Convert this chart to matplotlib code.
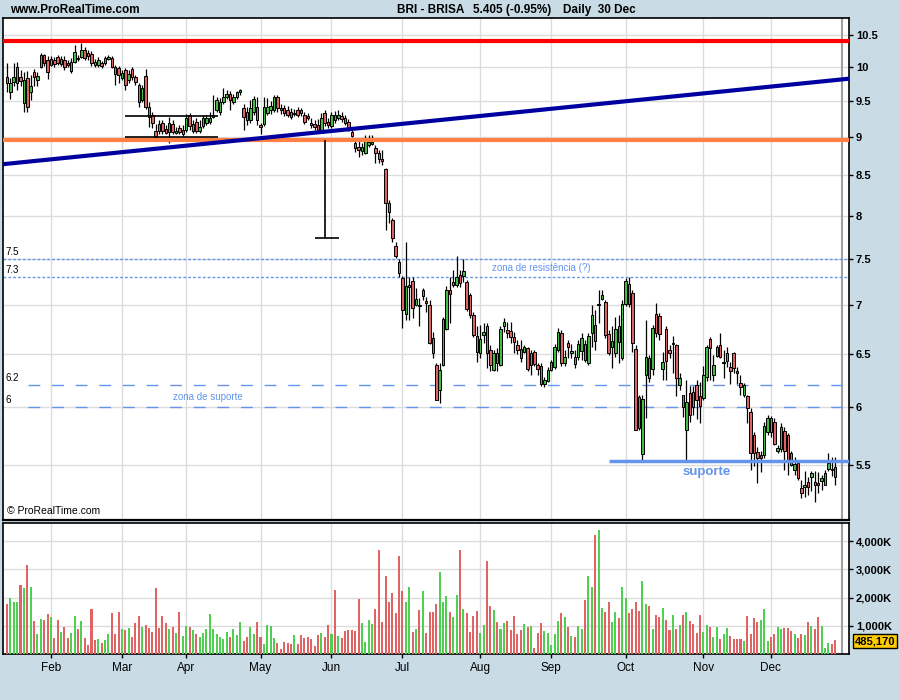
import numpy as np
import pandas as pd
import matplotlib
matplotlib.use('Agg')
import matplotlib.pyplot as plt
from matplotlib.ticker import NullLocator

plt.rcParams['font.family'] = ['Liberation Sans', 'DejaVu Sans']

# Dias de negociação (Euronext Lisboa, 2008)
feriados = ['2008-03-21', '2008-03-24', '2008-05-01', '2008-12-25', '2008-12-26']
datas = pd.bdate_range('2008-01-15', '2008-12-30', freq='C', holidays=feriados)

abertura = [
    9.86, 9.63, 9.78, 9.77, 9.86, 9.48, 9.84, 9.63, 9.93, 9.81,
    10.00, 10.19, 10.11, 10.04, 10.11, 10.16, 10.05, 10.11, 10.07, 9.95,
    10.08, 10.14, 10.16, 10.27, 10.22, 10.20, 10.08, 10.04, 10.07, 10.07,
    10.13, 10.14, 10.00, 9.99, 9.84, 9.96, 9.81, 9.97, 9.86, 9.74,
    9.52, 9.87, 9.42, 9.31, 9.09, 9.19, 9.20, 9.12, 9.07, 9.19,
    9.06, 9.13, 9.05, 9.10, 9.31, 9.09, 9.21, 9.09, 9.16, 9.20,
    9.21, 9.28, 9.38, 9.35, 9.49, 9.56, 9.61, 9.49, 9.56, 9.63,
    9.41, 9.35, 9.24, 9.35, 9.42, 9.17, 9.19, 9.34, 9.38, 9.38,
    9.56, 9.41, 9.41, 9.38, 9.35, 9.32, 9.38, 9.38, 9.31, 9.30,
    9.20, 9.19, 9.17, 9.10, 9.34, 9.21, 9.16, 9.31, 9.27, 9.30,
    9.27, 9.21, 9.07, 8.93, 8.87, 8.82, 8.79, 8.90, 8.91, 8.86,
    8.79, 8.71, 8.58, 8.15, 7.95, 7.64, 7.46, 7.28, 6.90, 7.19,
    7.25, 7.00, 7.00, 7.09, 7.04, 7.00, 6.66, 6.39, 6.16, 6.39,
    6.75, 7.16, 7.21, 7.21, 7.32, 7.31, 7.24, 7.10, 6.89, 6.68,
    6.51, 6.69, 6.78, 6.54, 6.34, 6.51, 6.39, 6.78, 6.74, 6.73,
    6.67, 6.59, 6.55, 6.52, 6.56, 6.39, 6.52, 6.39, 6.38, 6.21,
    6.24, 6.34, 6.37, 6.54, 6.71, 6.41, 6.61, 6.51, 6.47, 6.47,
    6.53, 6.60, 6.41, 6.71, 6.79, 7.00, 7.06, 7.03, 6.70, 6.57,
    6.51, 6.78, 6.46, 7.01, 7.22, 7.12, 6.55, 6.09, 5.59, 6.30,
    6.46, 6.35, 6.90, 6.88, 6.35, 6.75, 6.54, 6.60, 6.59, 6.20,
    6.11, 5.80, 6.13, 6.14, 6.20, 6.10, 6.08, 6.28, 6.65, 6.30,
    6.48, 6.59, 6.41, 6.43, 6.37, 6.51, 6.33, 6.22, 6.11, 6.10,
    5.96, 5.75, 5.61, 5.56, 5.58, 5.78, 5.90, 5.87, 5.62, 5.63,
    5.79, 5.75, 5.60, 5.46, 5.52, 5.31, 5.32, 5.36, 5.40, 5.36,
    5.35, 5.37, 5.34, 5.47, 5.47, 5.48,
]
maximo = [
    10.07, 9.84, 10.07, 10.08, 9.96, 9.93, 9.95, 9.89, 9.97, 9.93,
    10.22, 10.20, 10.17, 10.17, 10.16, 10.19, 10.17, 10.17, 10.11, 10.14,
    10.34, 10.19, 10.38, 10.31, 10.27, 10.25, 10.13, 10.16, 10.10, 10.17,
    10.19, 10.17, 10.04, 10.02, 9.96, 9.99, 9.96, 10.00, 9.89, 9.77,
    9.74, 9.97, 9.49, 9.35, 9.19, 9.24, 9.24, 9.17, 9.28, 9.24,
    9.14, 9.17, 9.17, 9.32, 9.34, 9.24, 9.27, 9.24, 9.31, 9.31,
    9.35, 9.59, 9.56, 9.55, 9.70, 9.67, 9.65, 9.61, 9.65, 9.68,
    9.47, 9.42, 9.52, 9.58, 9.56, 9.20, 9.56, 9.55, 9.51, 9.59,
    9.59, 9.47, 9.45, 9.44, 9.41, 9.39, 9.42, 9.41, 9.35, 9.34,
    9.27, 9.24, 9.25, 9.34, 9.38, 9.27, 9.35, 9.37, 9.38, 9.35,
    9.31, 9.25, 9.10, 8.97, 8.97, 8.93, 9.03, 9.03, 9.03, 8.90,
    8.83, 8.83, 8.59, 8.19, 7.97, 7.69, 7.50, 7.31, 7.69, 7.30,
    7.30, 7.18, 7.07, 7.18, 7.08, 7.05, 6.72, 6.41, 6.41, 6.87,
    7.20, 7.30, 7.37, 7.53, 7.37, 7.50, 7.26, 7.12, 6.92, 6.78,
    6.79, 6.81, 6.81, 6.59, 6.54, 6.56, 6.78, 6.86, 6.82, 6.82,
    6.72, 6.64, 6.64, 6.59, 6.57, 6.54, 6.54, 6.41, 6.41, 6.28,
    6.37, 6.44, 6.60, 6.76, 6.74, 6.54, 6.64, 6.60, 6.54, 6.64,
    6.71, 6.64, 6.71, 7.00, 6.94, 7.16, 7.16, 7.05, 6.74, 6.78,
    6.87, 6.89, 7.05, 7.28, 7.30, 7.16, 6.59, 6.11, 6.11, 6.84,
    6.49, 6.79, 7.02, 6.91, 6.52, 6.78, 6.59, 6.68, 6.60, 6.32,
    6.11, 6.25, 6.19, 6.19, 6.25, 6.23, 6.38, 6.59, 6.67, 6.49,
    6.59, 6.71, 6.54, 6.57, 6.42, 6.52, 6.37, 6.30, 6.22, 6.11,
    5.99, 5.78, 5.65, 5.62, 5.87, 5.93, 5.92, 5.90, 5.67, 5.86,
    5.82, 5.77, 5.62, 5.57, 5.54, 5.38, 5.45, 5.40, 5.45, 5.45,
    5.44, 5.42, 5.46, 5.60, 5.57, 5.57,
]
minimo = [
    9.63, 9.54, 9.73, 9.67, 9.73, 9.35, 9.35, 9.52, 9.72, 9.72,
    9.99, 10.02, 9.83, 10.02, 10.00, 10.04, 10.02, 9.96, 10.00, 9.91,
    10.07, 10.10, 10.14, 10.11, 10.11, 10.02, 10.00, 10.00, 9.99, 10.04,
    10.11, 9.99, 9.74, 9.77, 9.81, 9.67, 9.77, 9.81, 9.74, 9.42,
    9.49, 9.39, 9.14, 9.13, 8.99, 9.05, 9.04, 9.04, 8.92, 9.04,
    9.04, 9.04, 9.02, 9.07, 9.10, 9.06, 9.06, 9.06, 9.13, 9.17,
    9.19, 9.27, 9.35, 9.31, 9.47, 9.54, 9.38, 9.47, 9.54, 9.59,
    9.10, 9.17, 9.20, 9.31, 9.17, 9.04, 9.16, 9.31, 9.32, 9.35,
    9.35, 9.32, 9.30, 9.28, 9.25, 9.30, 9.28, 9.30, 9.19, 9.24,
    9.13, 9.10, 9.07, 9.07, 9.16, 9.13, 9.13, 9.20, 9.24, 9.21,
    9.17, 9.09, 9.00, 8.81, 8.74, 8.77, 8.78, 8.87, 8.90, 8.66,
    8.66, 8.64, 7.83, 7.91, 7.69, 7.51, 7.30, 6.76, 6.84, 6.84,
    6.86, 6.98, 6.78, 7.05, 6.92, 6.60, 6.46, 6.06, 6.04, 6.38,
    6.74, 6.81, 7.19, 7.19, 7.19, 7.24, 6.93, 6.86, 6.67, 6.42,
    6.46, 6.61, 6.36, 6.33, 6.33, 6.33, 6.38, 6.72, 6.66, 6.61,
    6.51, 6.50, 6.42, 6.51, 6.33, 6.30, 6.38, 6.30, 6.19, 6.18,
    6.23, 6.33, 6.35, 6.52, 6.38, 6.38, 6.46, 6.46, 6.36, 6.44,
    6.44, 6.42, 6.39, 6.57, 6.54, 6.81, 7.05, 6.66, 6.49, 6.36,
    6.47, 6.41, 6.44, 6.98, 6.97, 6.52, 5.80, 5.80, 5.54, 5.90,
    6.23, 6.30, 6.67, 6.64, 6.25, 6.25, 6.46, 6.32, 6.10, 6.16,
    5.91, 5.54, 5.87, 5.93, 5.89, 5.86, 6.06, 6.24, 6.25, 6.24,
    6.47, 6.46, 6.27, 6.37, 6.21, 6.32, 6.21, 6.11, 6.09, 5.86,
    5.46, 5.49, 5.35, 5.44, 5.56, 5.75, 5.74, 5.67, 5.60, 5.61,
    5.46, 5.42, 5.49, 5.42, 5.38, 5.23, 5.24, 5.26, 5.29, 5.20,
    5.27, 5.30, 5.34, 5.45, 5.41, 5.34,
]
fecho = [
    9.76, 9.76, 9.86, 10.00, 9.80, 9.81, 9.42, 9.73, 9.86, 9.87,
    10.19, 10.07, 9.93, 10.13, 10.05, 10.07, 10.13, 10.00, 10.04, 10.08,
    10.24, 10.13, 10.27, 10.14, 10.17, 10.07, 10.04, 10.11, 10.02, 10.14,
    10.16, 10.00, 9.90, 9.89, 9.91, 9.74, 9.90, 9.86, 9.78, 9.49,
    9.69, 9.42, 9.28, 9.20, 9.00, 9.09, 9.09, 9.06, 9.20, 9.07,
    9.09, 9.07, 9.10, 9.27, 9.16, 9.19, 9.09, 9.14, 9.27, 9.27,
    9.27, 9.31, 9.52, 9.49, 9.56, 9.61, 9.52, 9.56, 9.63, 9.67,
    9.28, 9.24, 9.41, 9.54, 9.24, 9.14, 9.42, 9.42, 9.44, 9.56,
    9.41, 9.38, 9.34, 9.31, 9.28, 9.34, 9.31, 9.34, 9.21, 9.27,
    9.17, 9.14, 9.10, 9.27, 9.20, 9.17, 9.31, 9.24, 9.31, 9.25,
    9.20, 9.13, 9.02, 8.86, 8.83, 8.87, 8.97, 8.94, 8.94, 8.79,
    8.71, 8.69, 8.15, 8.04, 7.74, 7.53, 7.34, 6.94, 7.20, 7.21,
    6.96, 7.06, 6.98, 7.15, 7.02, 6.61, 6.51, 6.06, 6.34, 6.85,
    7.15, 7.11, 7.24, 7.30, 7.23, 7.36, 6.95, 6.89, 6.69, 6.52,
    6.65, 6.72, 6.51, 6.39, 6.51, 6.41, 6.75, 6.82, 6.71, 6.67,
    6.62, 6.54, 6.46, 6.57, 6.35, 6.51, 6.40, 6.35, 6.21, 6.25,
    6.34, 6.42, 6.57, 6.72, 6.41, 6.47, 6.57, 6.53, 6.40, 6.60,
    6.66, 6.44, 6.68, 6.89, 6.63, 7.01, 7.10, 6.69, 6.51, 6.63,
    6.75, 6.62, 7.01, 7.25, 7.01, 6.61, 5.80, 5.81, 6.07, 6.47,
    6.27, 6.76, 6.71, 6.70, 6.42, 6.43, 6.51, 6.61, 6.27, 6.27,
    6.00, 6.05, 5.93, 6.00, 6.06, 6.01, 6.30, 6.57, 6.56, 6.39,
    6.57, 6.47, 6.42, 6.51, 6.33, 6.36, 6.32, 6.18, 6.20, 5.99,
    5.60, 5.60, 5.56, 5.58, 5.83, 5.90, 5.78, 5.68, 5.64, 5.82,
    5.62, 5.53, 5.50, 5.51, 5.39, 5.27, 5.34, 5.32, 5.43, 5.34,
    5.34, 5.39, 5.43, 5.52, 5.46, 5.405,
]
# Volume em milhares de acções
volume = [
    1776, 1988, 1847, 1847, 2447, 2341, 3153, 2376, 1176, 718,
    1247, 1212, 1424, 1318, 576, 1212, 788, 965, 576, 753,
    1353, 894, 1176, 576, 329, 1600, 506, 541, 400, 506,
    718, 1459, 718, 1494, 894, 859, 929, 612, 1106, 1353,
    965, 1035, 929, 788, 2341, 929, 1353, 1106, 894, 965,
    753, 1494, 647, 1000, 965, 859, 718, 612, 753, 894,
    1424, 894, 718, 612, 541, 788, 612, 894, 682, 1141,
    471, 612, 965, 718, 1141, 612, 365, 1035, 1000, 576,
    400, 188, 435, 400, 365, 682, 365, 682, 576, 612,
    541, 294, 682, 753, 612, 1035, 718, 2271, 647, 576,
    824, 859, 859, 824, 1953, 1106, 435, 1212, 1071, 1600,
    3682, 1141, 2765, 1847, 2165, 1459, 3471, 2235, 1847, 2376,
    788, 894, 1565, 2235, 753, 1494, 1494, 1776, 2906, 1847,
    2059, 1494,
    1318, 2094, 3682, 1600, 1459, 788, 1353, 1529, 753, 1035,
    3294, 1706, 1565, 1141, 894, 1106, 1176, 859, 1353, 718,
    859, 1071, 965, 1000, 224, 753, 1106, 824, 753, 329,
    718, 1176, 1459, 1318, 965, 647, 612, 1000, 894, 1918,
    2765, 2376, 4212, 4388, 1635, 1494, 1847, 1141, 1494, 1282,
    2376, 1988, 1459, 1600, 1847, 1529, 2588, 1776, 1706, 894,
    1388, 1318, 1635, 1212, 859, 1388, 894, 1035, 1388, 1494,
    1176, 1071, 753, 1388, 788, 1035, 965, 612, 965, 541,
    718, 929, 647, 541, 541, 541, 471, 1353, 718, 1282,
    1141, 1212, 1600, 471, 612, 718, 965, 894, 929, 929,
    824, 718, 576, 718, 682, 1141, 1000, 894, 1318, 1000,
    224, 400, 365, 485,
]

# Linhas desenhadas no grafico
resistencia_topo = 10.41
suporte_antigo = 8.97
tendencia = [(0, 8.65), (245, 9.81)]
caixa = (35, 62.4, 9.29, 9.0)        # inicio, fim, topo, fundo
objectivo = (94.1, 8.97, 7.74)       # x, de, ate
zona_resist = [7.5, 7.3]
zona_suporte = [6.2, 6.0]
suporte = (178, 5.53)
ticks_preco = [5.5, 6, 6.5, 7, 7.5, 8, 8.5, 9, 9.5, 10, 10.5]
ticks_vol = [1000, 2000, 3000, 4000]
ultimo_vol = '485,170'

o = np.array(abertura); h = np.array(maximo); l = np.array(minimo); c = np.array(fecho)
x = np.arange(len(datas))
meses = [i for i in range(1, len(datas)) if datas[i].month != datas[i - 1].month]
meses_lbl = [datas[i].strftime('%b') for i in meses]

FUNDO = '#c9dce6'
AZUL = '#6495ed'
GRELHA = '#dcdcdc'
xlim = (-1.18, 249.1)

fig = plt.figure(figsize=(9, 7), dpi=100, facecolor=FUNDO)
axp = fig.add_axes([3 / 900, 1 - 520 / 700, 846 / 900, 502 / 700])
axv = fig.add_axes([3 / 900, 1 - 654 / 700, 846 / 900, 131 / 700])

# --- painel de precos ---
subida = c >= o
axp.vlines(x, l, h, color='black', lw=0.9, zorder=3)
axp.bar(x, np.maximum(np.abs(c - o), 0.01), bottom=np.minimum(o, c), width=0.74,
        color=np.where(subida, '#44bb44', '#dd6464'), edgecolor='black', linewidth=0.7, zorder=4)

axp.axhline(resistencia_topo, color='#ff0000', lw=3, zorder=5)
axp.axhline(suporte_antigo, color='#ff8040', lw=3, zorder=5)
axp.axline(tendencia[0], tendencia[1], color='#0000a0', lw=3, zorder=6)

axp.hlines([caixa[2], caixa[3]], caixa[0], caixa[1], color='black', lw=1.2, zorder=5)
axp.vlines(objectivo[0], objectivo[2], objectivo[1], color='black', lw=1.2, zorder=5)
axp.hlines(objectivo[2], objectivo[0] - 3, objectivo[0] + 4, color='black', lw=1.2, zorder=5)

for nivel in zona_resist:
    axp.axhline(nivel, color=AZUL, lw=1, dashes=(2, 1.5), zorder=2)
    axp.text(-0.3, nivel * 1.003, f'{nivel:g}', fontsize=7, va='bottom', ha='left')
for nivel in zona_suporte:
    axp.hlines(nivel, 6.3, xlim[1], color=AZUL, lw=1, linestyles=(0, (8.5, 8.5)), zorder=2)
    axp.text(-0.3, nivel * 1.003, f'{nivel:g}', fontsize=7, va='bottom', ha='left')
axp.hlines(suporte[1], suporte[0], xlim[1], color=AZUL, lw=2.5, zorder=5)

axp.text(143.5, 7.39, 'zona de resistência (?)', color=AZUL, fontsize=7, va='center')
axp.text(49.1, 6.09, 'zona de suporte', color=AZUL, fontsize=7, va='center')
axp.text(207, 5.44, 'suporte', color=AZUL, fontsize=9.5, fontweight='bold', ha='center', va='center')
axp.text(0.005, 0.008, '© ProRealTime.com', transform=axp.transAxes, fontsize=7.5, va='bottom')

axp.set_yscale('log')
axp.set_ylim(5.063, 10.77)
axp.set_xlim(*xlim)
axp.yaxis.tick_right()
axp.yaxis.set_minor_locator(NullLocator())
axp.set_yticks(ticks_preco)
axp.set_yticklabels([f'{t:g}' for t in ticks_preco], fontweight='bold', fontsize=8)
axp.set_xticks(meses)
axp.tick_params(axis='x', length=0, labelbottom=False)
axp.tick_params(axis='y', length=3, width=1, pad=2)
axp.grid(color=GRELHA, lw=1)
axp.set_axisbelow(True)
axp.axvline(247, color='#a0a0a0', lw=1.5, zorder=1)
for s in axp.spines.values():
    s.set_linewidth(1.2)
axp.spines['bottom'].set_linewidth(1.6)

# --- painel de volume ---
axv.bar(x, volume, width=0.6, color=np.where(subida, '#50d050', '#e06464'), zorder=3)
axv.set_xlim(*xlim)
axv.set_ylim(0, 4640)
axv.yaxis.tick_right()
axv.set_yticks(ticks_vol)
axv.set_yticklabels([f'{t:,}K' for t in ticks_vol], fontweight='bold', fontsize=8)
axv.set_xticks(meses)
axv.set_xticklabels(meses_lbl, fontsize=8.5)
axv.tick_params(axis='x', length=3, width=1, pad=3)
axv.tick_params(axis='y', length=3, width=1, pad=2)
axv.grid(color=GRELHA, lw=1)
axv.set_axisbelow(True)
axv.axvline(247, color='#a0a0a0', lw=1.5, zorder=1)
for s in axv.spines.values():
    s.set_linewidth(1.2)

fig.text(875 / 900, 1 - 641 / 700, ultimo_vol, ha='center', va='center', fontsize=8, fontweight='bold',
         bbox=dict(boxstyle='square,pad=0.2', fc='#ffcc00', ec='black', lw=1))

# --- cabecalho ---
fig.text(10 / 900, 1 - 10 / 700, 'www.ProRealTime.com', fontsize=8.5, fontweight='bold', va='center')
fig.text(397 / 900, 1 - 10 / 700, 'BRI - BRISA', fontsize=8.5, fontweight='bold', va='center')
fig.text(473 / 900, 1 - 10 / 700, '5.405 (-0.95%)', fontsize=8.5, fontweight='bold', va='center')
fig.text(563 / 900, 1 - 10 / 700, 'Daily  30 Dec', fontsize=8.5, fontweight='bold', va='center')

fig.savefig('out.png', dpi=100, facecolor=FUNDO)
